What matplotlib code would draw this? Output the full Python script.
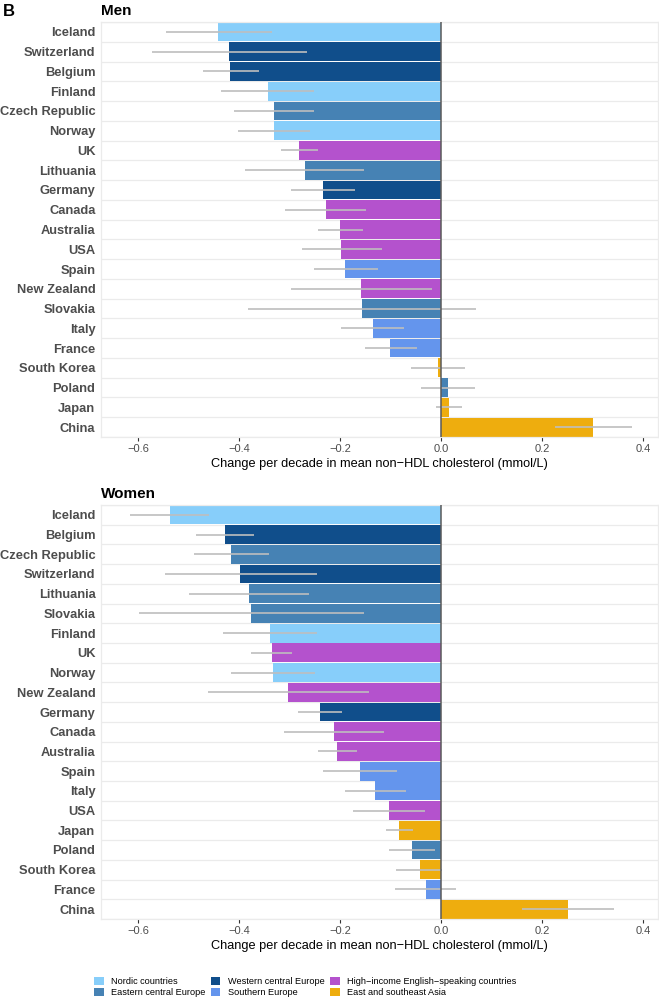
import numpy as np
import matplotlib
matplotlib.use('Agg')
import matplotlib.pyplot as plt
from matplotlib.patches import Patch

plt.rcParams['font.family'] = ['Liberation Sans', 'DejaVu Sans']

# Region colours
region_names = ['Nordic countries', 'Eastern central Europe', 'Western central Europe',
                'Southern Europe', 'High\u2212income English\u2212speaking countries',
                'East and southeast Asia']
region_colors = ['#87CEFA', '#4682B4', '#104E8B', '#6495ED', '#B452CD', '#EEAD0E']
region_of = {
    'Iceland': 0, 'Finland': 0, 'Norway': 0,
    'Czech Republic': 1, 'Lithuania': 1, 'Slovakia': 1, 'Poland': 1,
    'Switzerland': 2, 'Belgium': 2, 'Germany': 2,
    'Spain': 3, 'Italy': 3, 'France': 3,
    'UK': 4, 'Canada': 4, 'Australia': 4, 'USA': 4, 'New Zealand': 4,
    'South Korea': 5, 'Japan': 5, 'China': 5,
}

# Men
men_countries = ['Iceland', 'Switzerland', 'Belgium', 'Finland', 'Czech Republic', 'Norway',
                 'UK', 'Lithuania', 'Germany', 'Canada', 'Australia', 'USA', 'Spain',
                 'New Zealand', 'Slovakia', 'Italy', 'France', 'South Korea', 'Poland',
                 'Japan', 'China']
men_value = [-0.441, -0.419, -0.417, -0.343, -0.331, -0.331, -0.281, -0.270, -0.234, -0.228,
             -0.200, -0.197, -0.189, -0.158, -0.156, -0.135, -0.100, -0.006, 0.014, 0.017, 0.302]
men_lo = [-0.545, -0.572, -0.472, -0.435, -0.409, -0.401, -0.317, -0.387, -0.297, -0.308,
          -0.244, -0.275, -0.251, -0.297, -0.382, -0.198, -0.150, -0.060, -0.039, -0.010, 0.226]
men_hi = [-0.335, -0.266, -0.361, -0.251, -0.251, -0.259, -0.244, -0.153, -0.170, -0.149,
          -0.155, -0.117, -0.125, -0.018, 0.069, -0.072, -0.048, 0.048, 0.067, 0.042, 0.379]

# Women
women_countries = ['Iceland', 'Belgium', 'Czech Republic', 'Switzerland', 'Lithuania', 'Slovakia',
                   'Finland', 'UK', 'Norway', 'New Zealand', 'Germany', 'Canada', 'Australia',
                   'Spain', 'Italy', 'USA', 'Japan', 'Poland', 'South Korea', 'France', 'China']
women_value = [-0.537, -0.428, -0.415, -0.397, -0.380, -0.376, -0.339, -0.335, -0.333, -0.302,
               -0.239, -0.212, -0.205, -0.160, -0.130, -0.102, -0.083, -0.057, -0.042, -0.030, 0.251]
women_lo = [-0.615, -0.485, -0.488, -0.547, -0.498, -0.598, -0.431, -0.375, -0.416, -0.461,
            -0.283, -0.311, -0.243, -0.234, -0.190, -0.174, -0.109, -0.102, -0.088, -0.090, 0.160]
women_hi = [-0.459, -0.370, -0.341, -0.246, -0.261, -0.153, -0.246, -0.294, -0.249, -0.142,
            -0.195, -0.113, -0.166, -0.087, -0.070, -0.032, -0.055, -0.012, 0.003, 0.030, 0.343]

xticks = [-0.6, -0.4, -0.2, 0.0, 0.2, 0.4]
xlabel = 'Change per decade in mean non\u2212HDL cholesterol (mmol/L)'


def panel(ax, countries, value, lo, hi, title):
    n = len(countries)
    y = np.arange(n)
    colors = [region_colors[region_of[c]] for c in countries]
    for b in np.arange(n + 1) - 0.5:
        ax.axhline(b, color='#EBEBEB', lw=0.9, zorder=0)
    ax.barh(y, value, height=0.95, color=colors, zorder=2)
    ax.hlines(y, lo, hi, color='#BEBEBE', lw=1.2, zorder=3)
    ax.axvline(0, color='#5A5A5A', lw=1.1, zorder=4)
    ax.set_xlim(-0.673, 0.43)
    ax.set_ylim(n - 0.5, -0.5)
    ax.set_yticks(y)
    ax.set_yticklabels(countries, fontsize=9.3, fontweight='bold', color='#4D4D4D')
    ax.tick_params(axis='y', length=0, pad=4)
    ax.set_xticks(xticks)
    ax.set_xticklabels(['\u22120.6', '\u22120.4', '\u22120.2', '0.0', '0.2', '0.4'],
                       fontsize=8, color='#4D4D4D')
    ax.tick_params(axis='x', length=3, width=0.8, color='#333333', pad=2)
    for s in ax.spines.values():
        s.set_color('#EBEBEB')
        s.set_linewidth(0.9)
    ax.set_xlabel(xlabel, fontsize=9.2, color='black', labelpad=3)
    ax.set_title(title, loc='left', fontsize=11, fontweight='bold', pad=5)


fig = plt.figure(figsize=(6.59, 9.99), dpi=100)
ax1 = fig.add_axes([101 / 659, 1 - 437 / 999, 557 / 659, 415 / 999])
ax2 = fig.add_axes([101 / 659, 1 - 919 / 999, 557 / 659, 414 / 999])
panel(ax1, men_countries, men_value, men_lo, men_hi, 'Men')
panel(ax2, women_countries, women_value, women_lo, women_hi, 'Women')

fig.text(3 / 659, 1 - 11 / 999, 'B', fontsize=12, fontweight='bold', va='center')

handles = [Patch(facecolor=c, edgecolor='none') for c in region_colors]
fig.legend(handles, region_names,
           loc='center', bbox_to_anchor=(305 / 659, 1 - 987 / 999), ncol=3,
           frameon=False, fontsize=6.6, handlelength=1.05, handleheight=1.05,
           columnspacing=0.6, handletextpad=0.8, labelspacing=0.2,
           borderpad=0.2)

fig.savefig('out.png', dpi=100)
